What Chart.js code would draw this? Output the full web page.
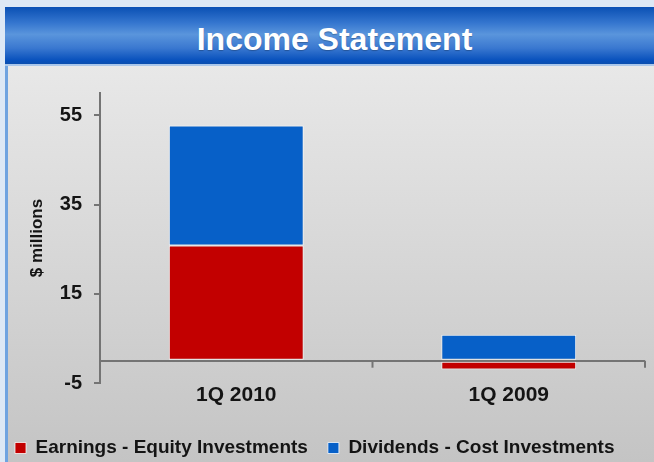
<!DOCTYPE html>
<html>
<head>
<meta charset="utf-8">
<script src="https://cdn.jsdelivr.net/npm/chart.js@4.4.0/dist/chart.umd.min.js"></script>
<style>
    html, body {
        margin: 0;
        padding: 0;
        width: 654px;
        height: 462px;
        overflow: hidden;
        background: #dde8f5;
        font-family: "Liberation Sans", Arial, sans-serif;
    }
    #titleBar {
        position: absolute;
        left: 5px;
        top: 7px;
        width: 649px;
        height: 57px;
        background: linear-gradient(to bottom, #0a50b4 0%, #3576cf 28%, #5a95dc 48%, #3a78d0 72%, #0750bc 94%, #0a4eae 100%);
        border-bottom: 2px solid #a9c6ea;
        color: #fff;
        font-weight: bold;
        font-size: 32px;
        line-height: 66px;
        overflow: hidden;
        text-align: center;
        text-shadow: 0 1px 1px rgba(0, 0, 0, 0.25);
    }
    #titleBar span {
        position: relative;
        top: -1px;
        left: 5px;
    }
    #panel {
        position: absolute;
        left: 5px;
        top: 66px;
        width: 646px;
        height: 396px;
        border-left: 3px solid #6fa3e0;
        background: linear-gradient(to bottom, #e8e8e8 0%, #d8d8d8 45%, #c4c4c4 100%);
    }
    #chart {
        position: absolute;
        left: 0;
        top: 0;
    }
</style>
</head>
<body>
<div id="titleBar"><span>Income Statement</span></div>
<div id="panel">
    <canvas id="chart" width="646" height="396"></canvas>
</div>
<script>
// data - START
const CATEGORIES = ['1Q 2010', '1Q 2009'];
const EARNINGS_EQUITY = [25.8, -2.0];
const DIVIDENDS_COST = [26.9, 5.8];
const Y_TICKS = [-5, 15, 35, 55];
const SERIES_NAMES = ['Earnings - Equity Investments', 'Dividends - Cost Investments'];
// data - END

const AXIS_COLOR = '#747474';
const TEXT_COLOR = '#141414';

// tick marks hanging under the zero line, at the category boundaries
let zeroTicks = {
    id: 'zeroTicks',
    afterDatasetsDraw(chart) {
        let xs = chart.scales.x;
        let ys = chart.scales.y;
        let ctx = chart.ctx;
        let y0 = ys.getPixelForValue(0);
        ctx.save();
        ctx.strokeStyle = AXIS_COLOR;
        ctx.lineWidth = 2;
        for (let i = 0; i < CATEGORIES.length; i++) {
            let x = i < CATEGORIES.length - 1
                ? (xs.getPixelForValue(i) + xs.getPixelForValue(i + 1)) / 2
                : chart.chartArea.right;
            ctx.beginPath();
            ctx.moveTo(x, y0);
            ctx.lineTo(x, y0 + 7);
            ctx.stroke();
        }
        ctx.restore();
    }
};

let ctx = document.getElementById('chart');
let data = {
    labels: CATEGORIES,
    datasets: [{
        label: SERIES_NAMES[0],
        data: EARNINGS_EQUITY,
        backgroundColor: '#c20000',
        borderColor: 'rgba(255, 255, 255, 0.75)',
        borderWidth: 1,
        borderSkipped: false
    }, {
        label: SERIES_NAMES[1],
        data: DIVIDENDS_COST,
        backgroundColor: '#0760c8',
        borderColor: 'rgba(255, 255, 255, 0.75)',
        borderWidth: 1,
        borderSkipped: false
    }]
};
let config = {
    type: 'bar',
    data: data,
    options: {
        responsive: false,
        animation: false,
        categoryPercentage: 1,
        barPercentage: 0.495,
        layout: {
            padding: { top: 27, right: 9, left: -13, bottom: -5.5 }
        },
        scales: {
            x: {
                stacked: true,
                grid: { display: false, drawTicks: false },
                border: { display: false },
                ticks: {
                    color: TEXT_COLOR,
                    padding: 0,
                    font: { family: 'Liberation Sans', size: 21, weight: 'bold' }
                },
                afterFit: (scale) => {
                    scale.height = 35.5;
                }
            },
            y: {
                stacked: true,
                min: -5,
                max: 60,
                afterBuildTicks: (scale) => {
                    scale.ticks = Y_TICKS.concat([0]).sort((a, b) => a - b).map((v) => ({ value: v }));
                },
                afterFit: (scale) => {
                    scale.width = 105;
                },
                border: { display: true, color: AXIS_COLOR, width: 2 },
                grid: {
                    drawOnChartArea: true,
                    drawTicks: true,
                    tickLength: 6,
                    color: (c) => (c.tick && c.tick.value === 0 ? AXIS_COLOR : 'rgba(0,0,0,0)'),
                    lineWidth: 2,
                    tickColor: (c) => (c.tick && c.tick.value === 0 ? 'rgba(0,0,0,0)' : AXIS_COLOR),
                    tickWidth: 2
                },
                ticks: {
                    color: TEXT_COLOR,
                    padding: 12,
                    font: { family: 'Liberation Sans', size: 20, weight: 'bold' },
                    callback: (v) => (v === 0 ? '' : v)
                },
                title: {
                    display: true,
                    text: '$ millions',
                    color: TEXT_COLOR,
                    padding: { top: 32, bottom: 0 },
                    font: { family: 'Liberation Sans', size: 17, weight: 'bold' }
                }
            }
        },
        plugins: {
            legend: {
                position: 'bottom',
                align: 'start',
                labels: {
                    boxWidth: 11,
                    boxHeight: 11,
                    padding: 20,
                    color: TEXT_COLOR,
                    font: { family: 'Liberation Sans', size: 19, weight: 'bold' }
                }
            },
            tooltip: { enabled: false }
        }
    },
    plugins: [zeroTicks]
};
let incomeChart = new Chart(ctx, config);
</script>
</body>
</html>
